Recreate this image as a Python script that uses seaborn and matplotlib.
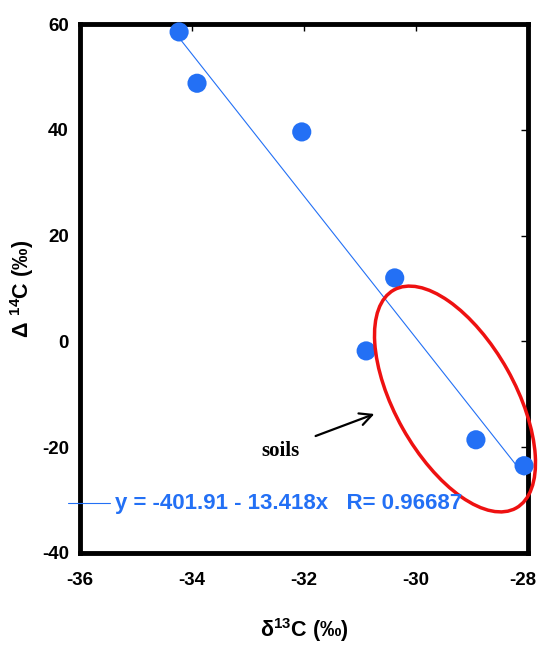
import numpy as np
import pandas as pd
import matplotlib.pyplot as plt
import matplotlib.transforms as mtransforms
import seaborn as sns
from matplotlib.patches import Ellipse
from matplotlib.lines import Line2D

# data
d13c = [-34.23, -33.91, -32.04, -30.38, -30.89, -28.93, -28.07]
D14c = [58.5, 48.8, 39.6, 12.0, -1.8, -18.6, -23.5]
intercept = -401.91
slope = -13.418
r_value = 0.96687

x_ticks = [-36, -34, -32, -30, -28]
y_ticks = [-40, -20, 0, 20, 40, 60]

sns.set_style("white")
plt.rcParams['font.family'] = ['Liberation Sans', 'DejaVu Sans']
plt.rcParams['mathtext.fontset'] = 'custom'
plt.rcParams['mathtext.rm'] = 'Liberation Sans:bold'
plt.rcParams['mathtext.default'] = 'rm'
plt.rcParams['axes.unicode_minus'] = False
plt.rcParams['text.color'] = 'black'
plt.rcParams['axes.labelcolor'] = 'black'
plt.rcParams['xtick.color'] = 'black'
plt.rcParams['ytick.color'] = 'black'

blue = '#2370F5'

fig = plt.figure(figsize=(5.39, 6.47), dpi=100)
ax = fig.add_axes([0.1484, 0.1453, 0.8312, 0.8176])

df = pd.DataFrame({'d13C': d13c, 'D14C': D14c})

# fit line
fx = np.array([min(d13c), max(d13c)])
fit = pd.DataFrame({'x': fx, 'y': intercept + slope * fx})
sns.lineplot(data=fit, x='x', y='y', ax=ax, color=blue, linewidth=0.8)

sns.scatterplot(data=df, x='d13C', y='D14C', ax=ax, color=blue, s=190,
                edgecolor='none', zorder=3, clip_on=False)

ax.set_xlim(-36, -28)
ax.set_ylim(-40, 60)
ax.set_xticks(x_ticks)
ax.set_yticks(y_ticks)
ax.tick_params(direction='in', length=5, width=1, top=True, right=True,
               labelsize=13.5)
ax.tick_params(axis='x', pad=14)
ax.tick_params(axis='y', pad=8)
for lab in ax.get_xticklabels() + ax.get_yticklabels():
    lab.set_fontweight('bold')
# keep the last x label inside the canvas
last = ax.get_xticklabels()[-1]
last.set_transform(last.get_transform() +
                   mtransforms.ScaledTranslation(-5 / 100, 0, fig.dpi_scale_trans))
for sp in ax.spines.values():
    sp.set_linewidth(3.5)
    sp.set_color('black')

ax.set_xlabel(r'$\delta^{13}$C (‰)', fontsize=15.5, fontweight='bold', labelpad=19)
ax.set_ylabel(r'$\Delta\ ^{14}$C (‰)', fontsize=15.5, fontweight='bold', labelpad=4)

# equation legend
fig.add_artist(Line2D([68 / 539, 110 / 539], [1 - 503 / 647] * 2,
                      color=blue, linewidth=0.8))
fig.text(115 / 539, 1 - 503 / 647,
         f'y = {intercept} - {slope * -1:.3f}x   R= {r_value}',
         color=blue, fontsize=16, fontweight='bold', va='center', ha='left')

# soils ellipse and arrow
ell = Ellipse((4.55, (647 - 399) / 100), width=2.5, height=1.2, angle=-60.7,
              transform=fig.dpi_scale_trans, fill=False, edgecolor='#EE1111',
              linewidth=2.5, clip_on=False)
fig.add_artist(ell)
fig.add_artist(plt.Annotation('', xy=(377 / 539, 1 - 413 / 647),
                              xytext=(313 / 539, 1 - 437 / 647),
                              xycoords='figure fraction',
                              arrowprops=dict(arrowstyle='->', lw=1.6,
                                              color='black', mutation_scale=22)))
fig.text(281 / 539, 1 - 451 / 647, 'soils', family='Liberation Serif',
         fontweight='bold', fontsize=15, ha='center', va='center')

fig.savefig('out.png', dpi=100)
